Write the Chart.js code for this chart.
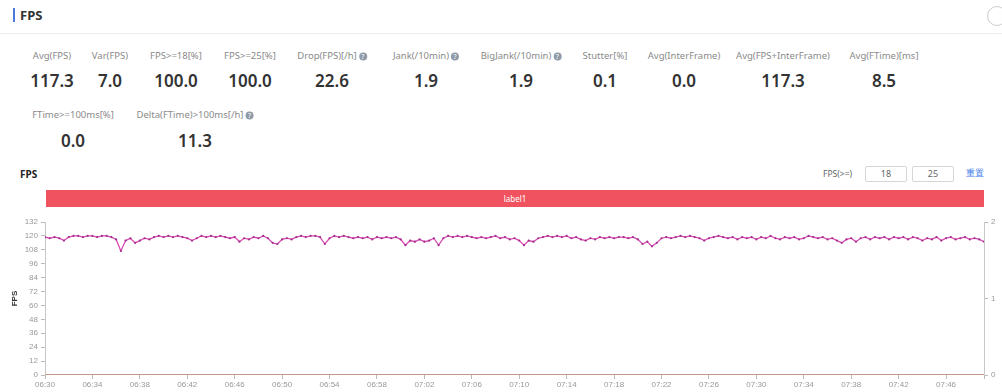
<!DOCTYPE html>
<html>
<head>
<meta charset="utf-8">
<script src="https://cdn.jsdelivr.net/npm/chart.js@4/dist/chart.umd.min.js"></script>
<style>
  html,body{margin:0;padding:0;background:#fff;}
  body{width:1002px;height:392px;position:relative;overflow:hidden;font-family:"Noto Sans","Open Sans",sans-serif;color:#333;}
  .abs{position:absolute;white-space:nowrap;}
  .lbl{font-size:9.5px;color:#8a8a8a;transform:translate(-50%,-50%);}
  .val{font-size:17px;font-weight:600;color:#333;transform:translate(-50%,-50%);}
  .ic{display:inline-block;width:8px;height:8px;border-radius:50%;background:#8f9aa8;color:#fff;font-size:7px;line-height:8px;text-align:center;margin-left:2px;vertical-align:0px;}
  .box{border:1px solid #d6d6d6;border-radius:2px;font-size:9px;color:#666;text-align:center;line-height:14px;}
</style>
</head>
<body>
<div class="abs" style="left:13px;top:8px;width:2px;height:14px;background:#4a78e0;"></div>
<div class="abs" style="left:20px;top:6px;font-size:13px;font-weight:700;color:#333;">FPS</div>
<div class="abs" style="left:987px;top:6px;width:18px;height:18px;border:1px solid #ccc;border-radius:50%;"></div>
<div class="abs" style="left:0;top:33px;width:1002px;height:1px;background:#ececec;"></div>
<div id="stats"></div>

<div class="abs" style="left:20px;top:167px;font-size:10px;font-weight:700;color:#222;">FPS</div>
<div class="abs" style="left:823px;top:168px;font-size:8.5px;color:#666;">FPS(&gt;=)</div>
<div class="abs box" id="th1" style="left:865px;top:166px;width:40px;height:14px;"></div>
<div class="abs box" id="th2" style="left:912px;top:166px;width:40px;height:14px;"></div>
<div class="abs" style="left:966px;top:167px;font-size:8.5px;color:#3b7be8;">重置</div>
<div class="abs" id="band" style="left:46px;top:190px;width:938px;height:17px;background:#f0525f;color:#fff;font-size:8px;text-align:center;line-height:17px;"></div>

<div class="abs" style="left:0;top:212px;width:1002px;height:180px;">
  <canvas id="c" width="1002" height="180" style="width:1002px;height:180px;"></canvas>
</div>

<script>
// ---- data ----
const statLabels = ["Avg(FPS)","Var(FPS)","FPS>=18[%]","FPS>=25[%]","Drop(FPS)[/h]","Jank(/10min)","BigJank(/10min)","Stutter[%]","Avg(InterFrame)","Avg(FPS+InterFrame)","Avg(FTime)[ms]","FTime>=100ms[%]","Delta(FTime)>100ms[/h]"];
const statValues = ["117.3","7.0","100.0","100.0","22.6","1.9","1.9","0.1","0.0","117.3","8.5","0.0","11.3"];
const statHasIcon = [false,false,false,false,true,true,true,false,false,false,false,false,true];
const thresholds = ["18","25"];
const bandLabel = "label1";

const xTickLabels = ["06:30","06:34","06:38","06:42","06:46","06:50","06:54","06:58","07:02","07:06","07:10","07:14","07:18","07:22","07:26","07:30","07:34","07:38","07:42","07:46"];
const yTicksLeft = [0,12,24,36,48,60,72,84,96,108,120,132];
const yTicksRight = [0,1,2];

const fps = [
119,118,119,118,116,119,120,120,119,120,
120,119,120,120,119,117,107,116,118,114,
116,118,117,119,120,119,120,119,120,119,
118,116,118,120,119,120,119,120,119,118,
119,115,118,117,119,118,120,118,114,113,
117,118,117,119,120,119,120,120,119,113,
118,120,119,120,119,118,119,118,119,117,
119,118,119,118,119,117,112,116,115,117,
115,116,118,112,118,120,119,120,119,120,
119,118,119,118,119,120,118,119,117,118,
116,112,116,115,118,119,120,119,120,119,
120,118,119,117,116,118,117,119,118,119,
118,119,119,118,119,117,113,115,111,114,
118,119,118,119,120,119,120,119,118,116,
118,119,120,119,118,119,117,119,118,119,
117,119,118,120,118,117,119,118,119,117,
118,120,119,118,119,117,118,116,114,117,
118,115,118,119,117,119,118,119,117,119,
118,119,117,119,118,116,118,117,119,116,
118,119,117,118,119,117,118,117,115
];
const jank = fps.map(() => 0);

// ---- layout ----
const statPos = [[52,55],[110,55],[176,55],[250,55],[332,55],[426,55],[521,55],[605,55],[684,55],[783,55],[884,55],[73,114],[195,114]];
const valDy = 25;
const st = document.getElementById('stats');
statLabels.forEach((l,i)=>{
  const [x,y] = statPos[i];
  const a = document.createElement('div');
  a.className = 'abs lbl';
  a.style.left = x+'px'; a.style.top = y+'px';
  a.innerHTML = l.replace(/</g,'&lt;').replace(/>/g,'&gt;') + (statHasIcon[i] ? '<span class="ic">?</span>' : '');
  st.appendChild(a);
  const b = document.createElement('div');
  b.className = 'abs val';
  b.style.left = x+'px'; b.style.top = (y+valDy+ (i>=11?1:0))+'px';
  b.textContent = statValues[i];
  st.appendChild(b);
});
document.getElementById('th1').textContent = thresholds[0];
document.getElementById('th2').textContent = thresholds[1];
document.getElementById('band').textContent = bandLabel;

const pts = fps.map((v,i)=>({x:i,y:v}));
const jpts = jank.map((v,i)=>({x:i,y:v}));

new Chart(document.getElementById('c'), {
  type: 'line',
  data: {
    datasets: [
      {label:'FPS', data: pts, yAxisID:'y', borderColor:'#d84ab0', backgroundColor:'#a02c8e',
       pointRadius:1.1, pointBorderWidth:0, pointBackgroundColor:'#a3308f', borderWidth:1.3, tension:0},
      {label:'Jank', data: jpts, yAxisID:'y1', borderColor:'#c49a86', borderWidth:2, pointRadius:0}
    ]
  },
  options: {
    responsive:false, animation:false, devicePixelRatio:1,
    layout:{padding:{top:10,bottom:0,left:0,right:0}},
    plugins:{legend:{display:false}, tooltip:{enabled:false}},
    scales:{
      x:{type:'linear', min:0, max:fps.length-1,
         grid:{drawOnChartArea:false, tickLength:4, color:'#bbb'},
         border:{display:false},
         ticks:{stepSize:10, autoSkip:false, maxRotation:0, padding:1, color:'#999', font:{size:8},
                callback:(v)=> (v%10===0 && xTickLabels[v/10]!==undefined) ? xTickLabels[v/10] : ''},
         afterFit:(s)=>{s.height=17;}
      },
      y:{position:'left', min:0, max:132,
         afterBuildTicks:(s)=>{s.ticks = yTicksLeft.map(v=>({value:v}));},
         grid:{drawOnChartArea:false, tickLength:4, color:'#bbb'},
         border:{color:'#c8c8c8'},
         ticks:{autoSkip:false, color:'#999', font:{size:8}, padding:3},
         title:{display:true, text:'FPS', color:'#333', font:{size:8, weight:'bold'}, padding:{top:10,bottom:0}},
         afterFit:(s)=>{s.width=45;}
      },
      y1:{position:'right', min:0, max:2,
         afterBuildTicks:(s)=>{s.ticks = yTicksRight.map(v=>({value:v}));},
         ticks:{autoSkip:false, color:'#999', font:{size:8}, padding:3},
         grid:{drawOnChartArea:false, tickLength:4, color:'#bbb'},
         border:{color:'#c8c8c8'},
         afterFit:(s)=>{s.width=18;}
      }
    }
  }
});
</script>
</body>
</html>
